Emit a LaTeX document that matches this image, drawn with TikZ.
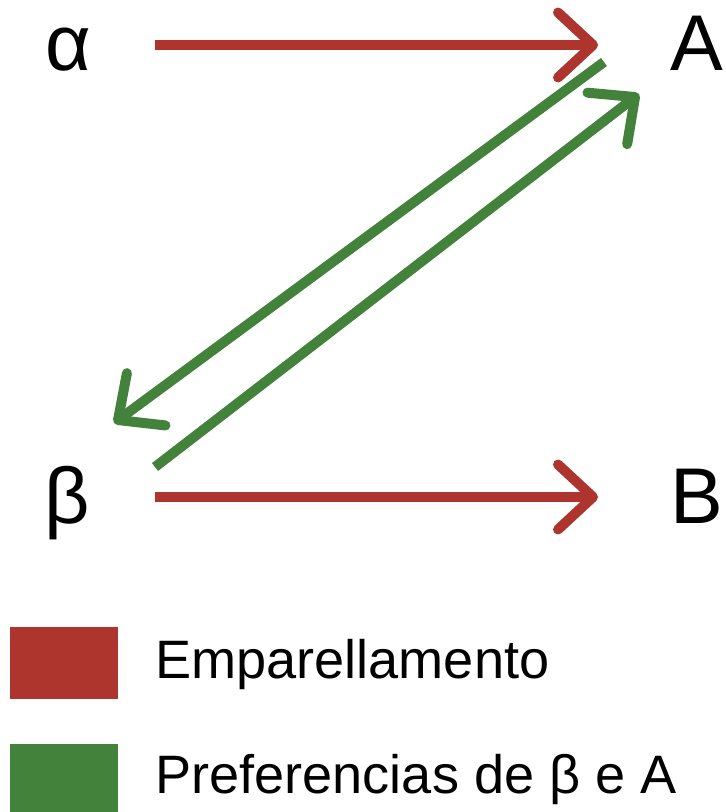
\documentclass[tikz,border=0pt]{standalone}
\usepackage{fontspec}
\setmainfont{Liberation Sans}
\usepackage{tikz}
\usetikzlibrary{arrows.meta,positioning}
\definecolor{matchred}{HTML}{AE342E}
\definecolor{prefgreen}{HTML}{43823A}
\tikzset{%
	letter/.style  = {inner sep=0pt, outer sep=0pt, minimum width=1.2cm, text height=1.04cm, text depth=0pt, font=\fontsize{45}{54}\selectfont}, % Agents
	match/.style   = {line width=0.2cm, matchred, -{Straight Barb[length=0.7cm, width=1.3cm, line cap=round, line join=round]}},
	pref/.style    = {line width=0.2cm, prefgreen, -{Straight Barb[length=0.7cm, width=1.3cm, line cap=round, line join=round]}},
	swatch/.style  = {rectangle, inner sep=0pt, minimum width=2.16cm, minimum height=1.44cm},
	keytext/.style = {inner sep=0pt, anchor=base west, font=\fontsize{30.8}{37}\selectfont},
}
\begin{document}
\begin{tikzpicture}[x=0.02cm, y=-0.02cm]
	\useasboundingbox (0,0) rectangle (725,812);
	% agents
	\node[letter] (alpha) at (68,45) {α};
	\node[letter] (A) at (697,45) {A};
	\node[letter] (beta) at (67,497) {β};
	\node[letter] (B) at (697,497) {B};
	% matching
	\draw[match, shorten <=1.14cm, shorten >=1.38cm] (alpha) -- (A);
	\draw[match, shorten <=1.16cm, shorten >=1.38cm] (beta) -- (B);
	% preferences
	\draw[pref] ([shift={(-93,17)}]A.center) -- ([shift={(47,-74)}]beta.center);
	\draw[pref] ([shift={(88,-30)}]beta.center) -- ([shift={(-58,49)}]A.center);
	% legend
	\node[swatch, fill=matchred] (keymatch) at (64,663) {};
	\node[swatch, fill=prefgreen] (keypref) at (64,780) {};
	\node[keytext] (txtmatch) at (155,678) {Emparellamento};
	\node[keytext] (txtpref) at (155,793) {Preferencias de β e A};
\end{tikzpicture}
\end{document}
